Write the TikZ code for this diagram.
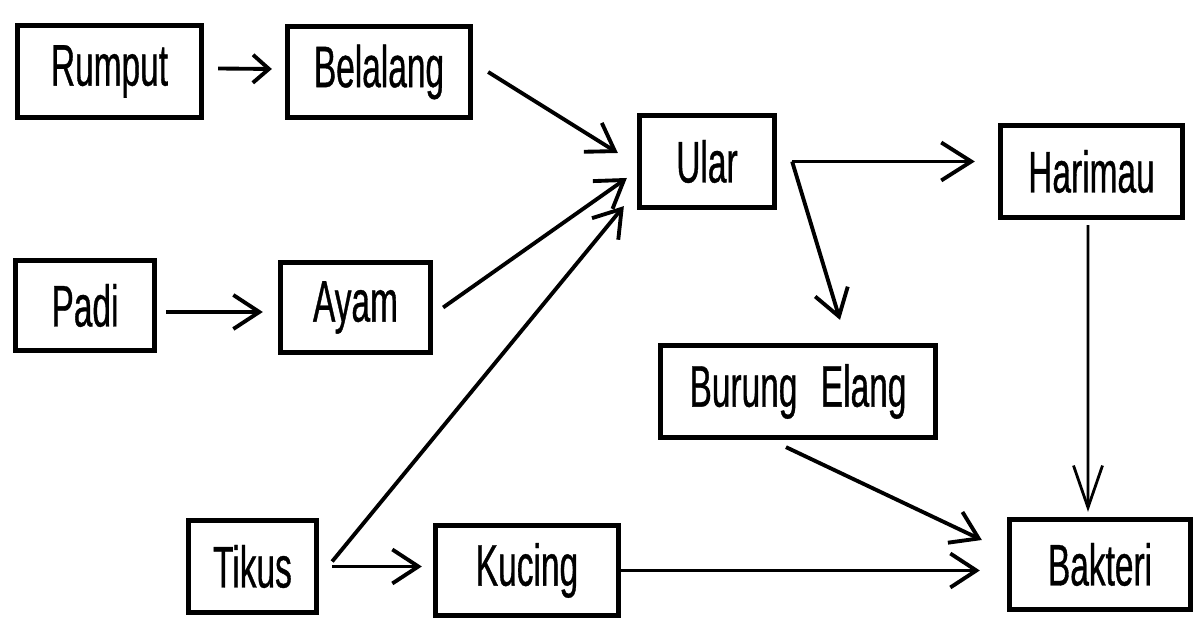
\documentclass[tikz,border=0pt]{standalone}
\usepackage{fontspec}
\setmainfont{Liberation Sans}[FakeStretch=0.57]
\newfontfamily\boxfont{Liberation Sans}[FakeStretch=0.57,FakeBold=0.6]
\usepackage{tikz}
\usetikzlibrary{arrows.meta}
\tikzset{
  box/.style={draw=black,line width=1.5pt,fill=white,inner sep=0pt,
    font=\boxfont\fontsize{16.7}{20}\selectfont},
  ar/.style={-{Straight Barb[length=2.6mm,width=3.4mm,line width=1.1pt]},line width=1.1pt,black},
  arthin/.style={-{Straight Barb[length=4.2mm,width=2.9mm,line width=0.8pt]},line width=0.8pt,black}
}
\begin{document}
\begin{tikzpicture}
\useasboundingbox (0,0) rectangle (12,-6.3);
% boxes
\node[box,minimum width=1.84cm,minimum height=0.92cm] (rumput) at (1.095,-0.715) {Rumput};
\node[box,minimum width=1.83cm,minimum height=0.91cm] (belalang) at (3.79,-0.72) {Belalang};
\node[box,minimum width=1.35cm,minimum height=0.92cm] (ular) at (7.07,-1.615) {Ular};
\node[box,minimum width=1.82cm,minimum height=0.92cm] (harimau) at (10.915,-1.715) {Harimau};
\node[box,minimum width=1.39cm,minimum height=0.90cm] (padi) at (0.85,-3.055) {Padi};
\node[box,minimum width=1.50cm,minimum height=0.90cm] (ayam) at (3.555,-3.075) {Ayam};
\node[box,minimum width=2.75cm,minimum height=0.92cm] (burung) at (7.98,-3.915) {Burung\hspace{0.4em}Elang};
\node[box,minimum width=1.28cm,minimum height=0.92cm] (tikus) at (2.525,-5.665) {Tikus};
\node[box,minimum width=1.83cm,minimum height=0.90cm] (kucing) at (5.27,-5.705) {Kucing};
\node[box,minimum width=1.81cm,minimum height=0.90cm] (bakteri) at (11.0,-5.645) {Bakteri};
% arrows
\draw[ar,-{Straight Barb[length=1.6mm,width=2.8mm,line width=1.1pt]}]
  ([xshift=0.14cm,yshift=0.03cm]rumput.east) -- ([xshift=-0.13cm,yshift=0.03cm]belalang.west);
\draw[ar] ([xshift=0.15cm]belalang.east) -- ([xshift=-0.19cm,yshift=0.085cm]ular.west);
\draw[ar] ([xshift=0.1cm]ayam.east) -- ([xshift=-0.1cm,yshift=-0.165cm]ular.west);
\draw[ar] ([xshift=0.13cm,yshift=0.05cm]tikus.east) -- ([xshift=-0.13cm,yshift=0.04cm]ular.south west);
\draw[ar] ([xshift=0.09cm,yshift=-0.065cm]padi.east) -- ([xshift=-0.15cm,yshift=-0.045cm]ayam.west);
\draw[ar] ([xshift=0.13cm]tikus.east) -- ([xshift=-0.11cm]kucing.west |- tikus.east);
\draw[ar,-{Straight Barb[length=3mm,width=3.8mm,line width=1.1pt]}]
  ([xshift=0.15cm]ular.east) -- ([xshift=-0.23cm]harimau.west |- ular.east);
\draw[ar] ([xshift=0.15cm]ular.east) -- ([xshift=0.42cm,yshift=0.23cm]burung.north);
\draw[arthin] ([xshift=-0.035cm,yshift=-0.05cm]harimau.south) -- ([xshift=-0.12cm,yshift=0.05cm]bakteri.north);
\draw[ar] ([xshift=-0.12cm,yshift=-0.07cm]burung.south) -- ([xshift=-0.25cm,yshift=0.245cm]bakteri.west);
\draw[ar] (kucing.east) -- ([xshift=-0.27cm]bakteri.west |- kucing.east);
\end{tikzpicture}
\end{document}
